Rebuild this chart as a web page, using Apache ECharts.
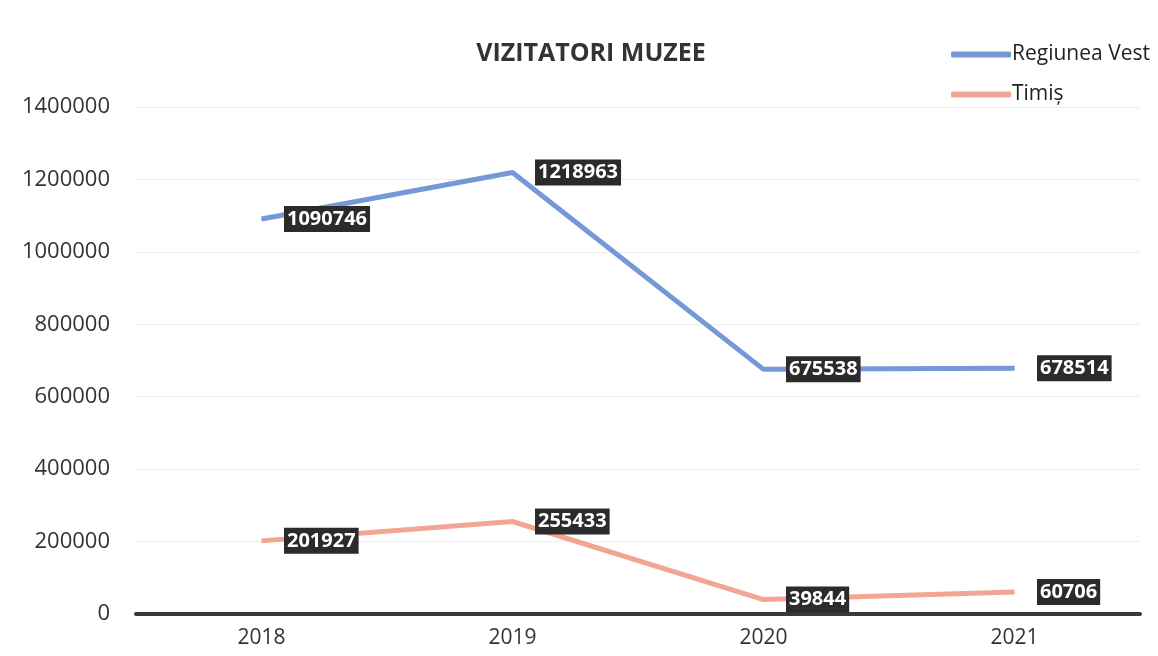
<!DOCTYPE html>
<html>
<head>
<meta charset="utf-8">
<script src="https://cdn.jsdelivr.net/npm/echarts@6/dist/echarts.min.js"></script>
<style>
  html, body { margin: 0; padding: 0; background: #fff; }
  #main { width: 1158px; height: 656px; }
</style>
</head>
<body>
<div id="main"></div>
<script>
// date grafic
var years = ['2018', '2019', '2020', '2021']
var regiuneaVest = [1090746, 1218963, 675538, 678514]
var timis = [201927, 255433, 39844, 60706]
var seriesNames = ['Regiunea Vest', 'Timiș']
var colors = ['#7598d6', '#f3a593']

var myChart = echarts.init(document.getElementById('main'))

var labelStyle = {
  show: true,
  position: 'right',
  distance: 22,
  color: '#fff',
  fontSize: 20,
  fontWeight: 'bold',
  fontFamily: 'Open Sans',
  backgroundColor: '#2b2b2b',
  padding: [4, 3, 2, 3]
}

var option = {
  animation: false,
  title: {
    text: 'VIZITATORI MUZEE',
    left: 586,
    textAlign: 'center',
    top: 36,
    textStyle: { fontSize: 25, fontWeight: 'bold', color: '#333', fontFamily: 'Open Sans' }
  },
  legend: {
    orient: 'vertical',
    left: 946,
    top: 39,
    itemWidth: 60,
    itemHeight: 6,
    itemGap: 19,
    icon: 'roundRect',
    textStyle: { fontSize: 21, color: '#222', fontFamily: 'Open Sans', padding: [0, 0, 0, -4] },
    data: seriesNames
  },
  grid: { left: 136, right: 18, top: 107, bottom: 42 },
  xAxis: {
    type: 'category',
    data: years,
    axisLine: { lineStyle: { color: '#3a3a3a', width: 4 } },
    axisTick: { show: false },
    axisLabel: { fontSize: 21, color: '#333', fontFamily: 'Open Sans', margin: 14 }
  },
  yAxis: {
    type: 'value',
    min: 0,
    max: 1400000,
    interval: 200000,
    axisLine: { show: false },
    axisTick: { show: false },
    axisLabel: { fontSize: 22, color: '#333', fontFamily: 'Open Sans', margin: 26, formatter: function (v) { return String(v) } },
    splitLine: { lineStyle: { color: '#eeeeee', width: 1 } }
  },
  series: [
    {
      name: seriesNames[0],
      type: 'line',
      data: regiuneaVest,
      symbol: 'circle',
      symbolSize: 1,
      lineStyle: { color: colors[0], width: 5 },
      itemStyle: { color: colors[0] },
      label: labelStyle
    },
    {
      name: seriesNames[1],
      type: 'line',
      data: timis,
      symbol: 'circle',
      symbolSize: 1,
      lineStyle: { color: colors[1], width: 5 },
      itemStyle: { color: colors[1] },
      label: labelStyle
    }
  ]
}

myChart.setOption(option)
</script>
</body>
</html>
